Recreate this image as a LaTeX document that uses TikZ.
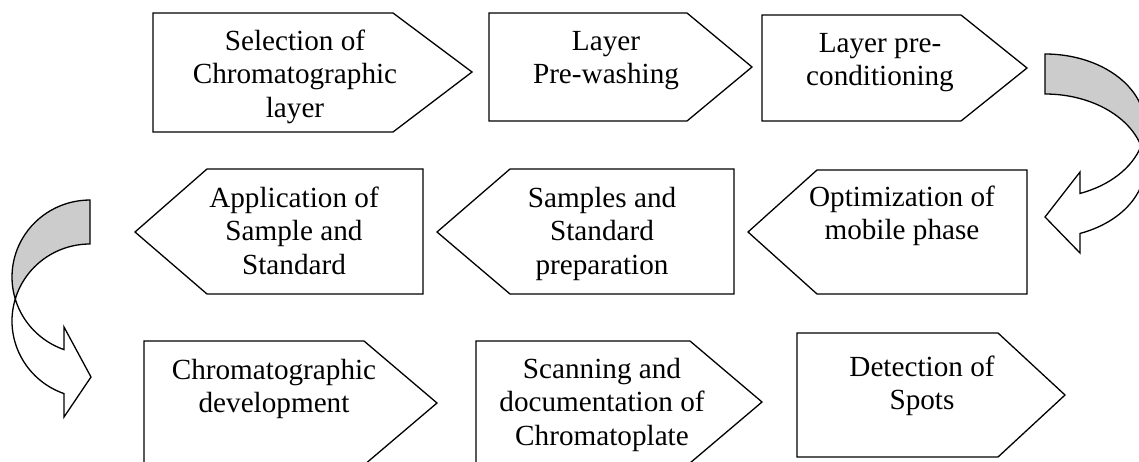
\documentclass[tikz,border=0pt]{standalone}
\usepackage{fontspec}
\setmainfont{Liberation Serif}
\begin{document}
\begin{tikzpicture}[
    x=0.5pt, y=-0.5pt,
    stepbox/.style={draw=black, fill=white, line width=0.65pt, line join=miter},
    steptext/.style={font=\fontsize{14.6}{16.75}\selectfont, align=center, anchor=north, inner sep=0pt},
    turnarrow/.style={draw=black, line width=0.65pt, line join=miter}
  ]
    \clip (0,0) rectangle (1139,461);
    \fill[white] (0,0) rectangle (1139,461);

    \draw[stepbox] (153,13) -- (393,13) -- (472,72) -- (393,132) -- (153,132) -- cycle;
    \draw[stepbox] (489,13) -- (687,13) -- (752,67) -- (687,121) -- (489,121) -- cycle;
    \draw[stepbox] (762,15) -- (961,15) -- (1027,68) -- (961,121) -- (762,121) -- cycle;

    \draw[stepbox] (1027,170) -- (817,170) -- (748,232) -- (817,294) -- (1027,294) -- cycle;
    \draw[stepbox] (734,169) -- (510,169) -- (437,232) -- (510,294) -- (734,294) -- cycle;
    \draw[stepbox] (423,169) -- (207,169) -- (135,232) -- (207,294) -- (423,294) -- cycle;

    \draw[stepbox] (144,341) -- (364,341) -- (437,403) -- (364,465) -- (144,465) -- cycle;
    \draw[stepbox] (476,341) -- (690,341) -- (762,402) -- (690,463) -- (476,463) -- cycle;
    \draw[stepbox] (797,333) -- (998,333) -- (1065,395) -- (998,457) -- (797,457) -- cycle;

    \node[steptext] (sel) at (295,26.5) {\strut Selection of\\Chromatographic\\layer};
    \node[steptext] (wash) at (606,26.5) {\strut Layer\\Pre-washing};
    \node[steptext] (cond) at (880,28.5) {\strut Layer pre-\\conditioning};
    \node[steptext] (mob) at (902,182.5) {\strut Optimization of\\mobile phase};
    \node[steptext] (prep) at (602,183.5) {\strut Samples and\\Standard\\preparation};
    \node[steptext] (appl) at (294,183.5) {\strut Application of\\Sample and\\Standard};
    \node[steptext] (dev) at (274,355.5) {\strut Chromatographic\\development};
    \node[steptext] (scan) at (602,354.5) {\strut Scanning and\\documentation of\\Chromatoplate};
    \node[steptext] (spot) at (922,352.5) {\strut Detection of\\Spots};

    \filldraw[turnarrow, fill=gray!40] (1045,54)
      arc[start angle=-90, end angle=16.13, x radius=100, y radius=72]
      arc[start angle=-16.13, end angle=-90, x radius=100, y radius=72] -- cycle;
    \filldraw[turnarrow, fill=white] (1141.06,146)
      arc[start angle=-16.13, end angle=69.51, x radius=100, y radius=72]
      -- (1080,253) -- (1045,217) -- (1080,172) -- (1080,193.45)
      arc[start angle=69.51, end angle=16.13, x radius=100, y radius=72] -- cycle;

    \filldraw[turnarrow, fill=gray!40] (90,200)
      arc[start angle=270, end angle=163.4, x radius=78, y radius=77]
      arc[start angle=196.6, end angle=270, x radius=78, y radius=77] -- cycle;
    \filldraw[turnarrow, fill=white] (15.26,299)
      arc[start angle=196.6, end angle=109.47, x radius=78, y radius=77]
      -- (64,417) -- (91,377) -- (64,327) -- (64,349.6)
      arc[start angle=109.47, end angle=163.4, x radius=78, y radius=77] -- cycle;
\end{tikzpicture}
\end{document}
